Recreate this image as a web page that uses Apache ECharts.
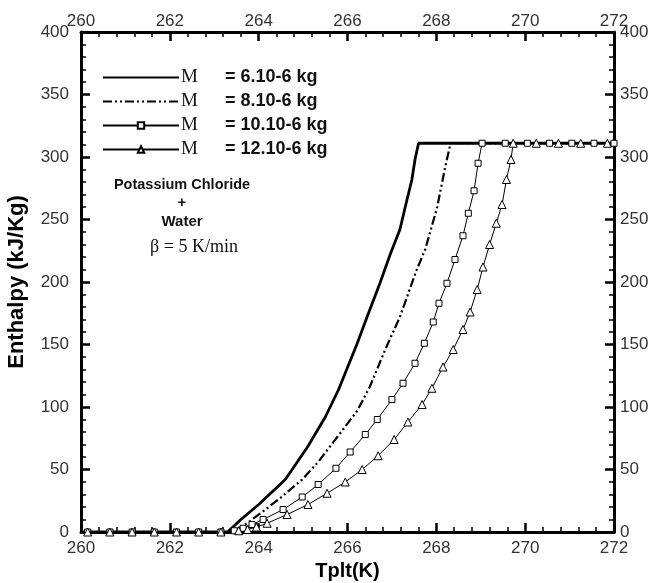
<!DOCTYPE html>
<html><head><meta charset="utf-8">
<script src="https://cdn.jsdelivr.net/npm/echarts@6/dist/echarts.min.js"></script>
<style>html,body{margin:0;padding:0;background:#fff}#c{width:655px;height:583px}</style>
</head><body><div id="c"></div>
<script>
// ---- data ----
const xTickLabels = [260, 262, 264, 266, 268, 270, 272];
const yTickLabels = [0, 50, 100, 150, 200, 250, 300, 350, 400];
const seriesNames = ['M6', 'M8', 'M10', 'M12'];
const legendValues = ['= 6.10-6 kg', '= 8.10-6 kg', '= 10.10-6 kg', '= 12.10-6 kg'];

const m6T = [260, 263.3, 263.6, 264.0, 264.6, 265.1, 265.5, 265.8, 266.22, 266.44, 266.73, 266.96, 267.18, 267.3, 267.45, 267.52, 267.6, 272];
const m6H = [0, 0, 10, 22, 42, 68, 92, 114, 151, 172, 199, 222, 242, 260, 282, 298, 311, 311];

const m8T = [260, 263.4, 263.7, 264.08, 264.48, 264.98, 265.34, 265.77, 266.22, 266.5, 266.85, 267.18, 267.56, 267.75, 268.02, 268.2, 268.32, 272];
const m8H = [0, 0, 6, 16, 27, 42, 56, 76, 97, 116, 146, 172, 210, 226, 260, 292, 311, 311];

const m10T = [260.15, 260.65, 261.15, 261.65, 262.15, 262.65, 263.15, 263.45, 263.65, 263.85, 264.1, 264.55, 264.98, 265.34, 265.74, 266.06, 266.4, 266.67, 267.0, 267.25, 267.52, 267.73, 267.93, 268.06, 268.24, 268.42, 268.6, 268.72, 268.85, 268.94, 269.03, 269.55, 270.05, 270.55, 271.05, 271.55, 272];
const m10H = [0, 0, 0, 0, 0, 0, 0, 1, 3, 6, 10, 18, 28, 38, 51, 64, 78, 90, 106, 119, 135, 151, 168, 183, 199, 218, 237, 255, 273, 295, 311, 311, 311, 311, 311, 311, 311];

const m12T = [260.15, 260.65, 261.15, 261.65, 262.15, 262.65, 263.15, 263.55, 263.75, 263.95, 264.19, 264.64, 265.11, 265.54, 265.95, 266.33, 266.69, 267.05, 267.36, 267.68, 267.9, 268.15, 268.38, 268.6, 268.76, 268.92, 269.05, 269.2, 269.35, 269.48, 269.58, 269.68, 269.73, 270.25, 270.75, 271.25, 271.85];
const m12H = [0, 0, 0, 0, 0, 0, 0, 1, 2, 4, 7, 14, 22, 31, 40, 50, 61, 74, 88, 102, 115, 132, 146, 162, 176, 194, 212, 230, 247, 262, 282, 298, 311, 311, 311, 311, 311];

// ---- chart ----
const zip = (a, b) => a.map((v, i) => [v, b[i]]);
const labelFont = {color: '#333', fontSize: 17, fontFamily: 'Liberation Sans'};
const xMin = xTickLabels[0], xMax = xTickLabels[xTickLabels.length - 1];
const yMin = yTickLabels[0], yMax = yTickLabels[yTickLabels.length - 1];

function xAx(pos, withName) {
  return {
    type: 'value', position: pos, min: xMin, max: xMax, interval: xTickLabels[1] - xTickLabels[0],
    axisLine: {show: true, onZero: false, lineStyle: {color: '#000', width: 3}},
    axisTick: {show: true, inside: true, length: 9, lineStyle: {color: '#000', width: 2.5}},
    minorTick: {show: true, splitNumber: 5, length: 5, lineStyle: {color: '#000', width: 1.5}},
    splitLine: {show: false}, minorSplitLine: {show: false},
    axisLabel: Object.assign({margin: pos === 'top' ? 2 : 8}, labelFont),
    name: withName ? 'Tplt(K)' : '', nameLocation: 'middle', nameGap: 29,
    nameTextStyle: {fontFamily: 'Liberation Sans', fontWeight: 'bold', fontSize: 20, color: '#000'}
  };
}
function yAx(pos, withName) {
  return {
    type: 'value', position: pos, min: yMin, max: yMax, interval: yTickLabels[1] - yTickLabels[0],
    axisLine: {show: true, onZero: false, lineStyle: {color: '#000', width: 3}},
    axisTick: {show: true, inside: true, length: 9, lineStyle: {color: '#000', width: 2.5}},
    minorTick: {show: true, splitNumber: 5, length: 5, lineStyle: {color: '#000', width: 1.5}},
    splitLine: {show: false}, minorSplitLine: {show: false},
    axisLabel: Object.assign({margin: pos === 'left' ? 12 : 6}, labelFont),
    name: withName ? 'Enthalpy (kJ/Kg)' : '', nameLocation: 'middle', nameGap: 53, nameRotate: 90,
    nameTextStyle: {fontFamily: 'Liberation Sans', fontWeight: 'bold', fontSize: 22, color: '#000'}
  };
}

const markerStyle = {color: '#fff', borderColor: '#000', borderWidth: 1};
const hidden = {color: 'rgba(0,0,0,0)', borderColor: 'rgba(0,0,0,0)', borderWidth: 0};
const series = [
  {name: seriesNames[0], type: 'line', data: zip(m6T, m6H), showSymbol: false, symbol: 'none',
   lineStyle: {color: '#000', width: 2.8}, itemStyle: {color: '#000'}, z: 3},
  {name: seriesNames[1], type: 'line', data: zip(m8T, m8H), showSymbol: false, symbol: 'none',
   lineStyle: {color: '#000', width: 2.2, type: [9, 3, 2, 3, 2, 3]}, itemStyle: {color: '#000'}, z: 3},
  {name: seriesNames[2], type: 'line', data: zip(m10T, m10H), symbol: 'rect', symbolSize: 6, showSymbol: true,
   lineStyle: {color: '#000', width: 1}, itemStyle: markerStyle, z: 4},
  {name: seriesNames[3], type: 'line', data: zip(m12T, m12H), symbol: 'triangle', symbolSize: 8, showSymbol: true,
   lineStyle: {color: '#000', width: 1}, itemStyle: markerStyle, z: 4}
];
series.forEach(s => { s.animation = false; s.silent = true; });

const chart = echarts.init(document.getElementById('c'), null, {renderer: 'canvas'});
chart.setOption({
  backgroundColor: '#fff',
  animation: false,
  grid: {left: 81, right: 41, top: 32, bottom: 51, containLabel: false, outerBoundsMode: 'none'},
  xAxis: [xAx('bottom', true), xAx('top', false)],
  yAxis: [yAx('left', true), yAx('right', false)],
  legend: {
    orient: 'vertical', left: 102, top: 68, padding: 0, itemWidth: 76, itemHeight: 8, itemGap: 5,
    data: [
      {name: seriesNames[0], itemStyle: hidden},
      {name: seriesNames[1], itemStyle: hidden},
      {name: seriesNames[2]},
      {name: seriesNames[3]}
    ],
    formatter: n => '{m|M}{v|' + legendValues[seriesNames.indexOf(n)] + '}',
    textStyle: {
      color: '#111', padding: [0, 0, 0, -3],
      rich: {
        m: {fontFamily: 'Liberation Serif', fontSize: 19, width: 44, color: '#111', lineHeight: 18},
        v: {fontFamily: 'Liberation Sans', fontWeight: 'bold', fontSize: 18, color: '#111', lineHeight: 18}
      }
    }
  },
  graphic: [
    {type: 'text', x: 182, y: 185, style: {text: 'Potassium Chloride', textAlign: 'center', textVerticalAlign: 'middle', font: 'bold 14.5px "Liberation Sans"', fill: '#111'}},
    {type: 'text', x: 182, y: 203, style: {text: '+', textAlign: 'center', textVerticalAlign: 'middle', font: 'bold 15px "Liberation Sans"', fill: '#111'}},
    {type: 'text', x: 182, y: 222, style: {text: 'Water', textAlign: 'center', textVerticalAlign: 'middle', font: 'bold 15px "Liberation Sans"', fill: '#111'}},
    {type: 'text', x: 194, y: 247, style: {text: 'β = 5 K/min', textAlign: 'center', textVerticalAlign: 'middle', font: '18px "Liberation Serif"', fill: '#111'}}
  ],
  series: series
});
</script></body></html>
